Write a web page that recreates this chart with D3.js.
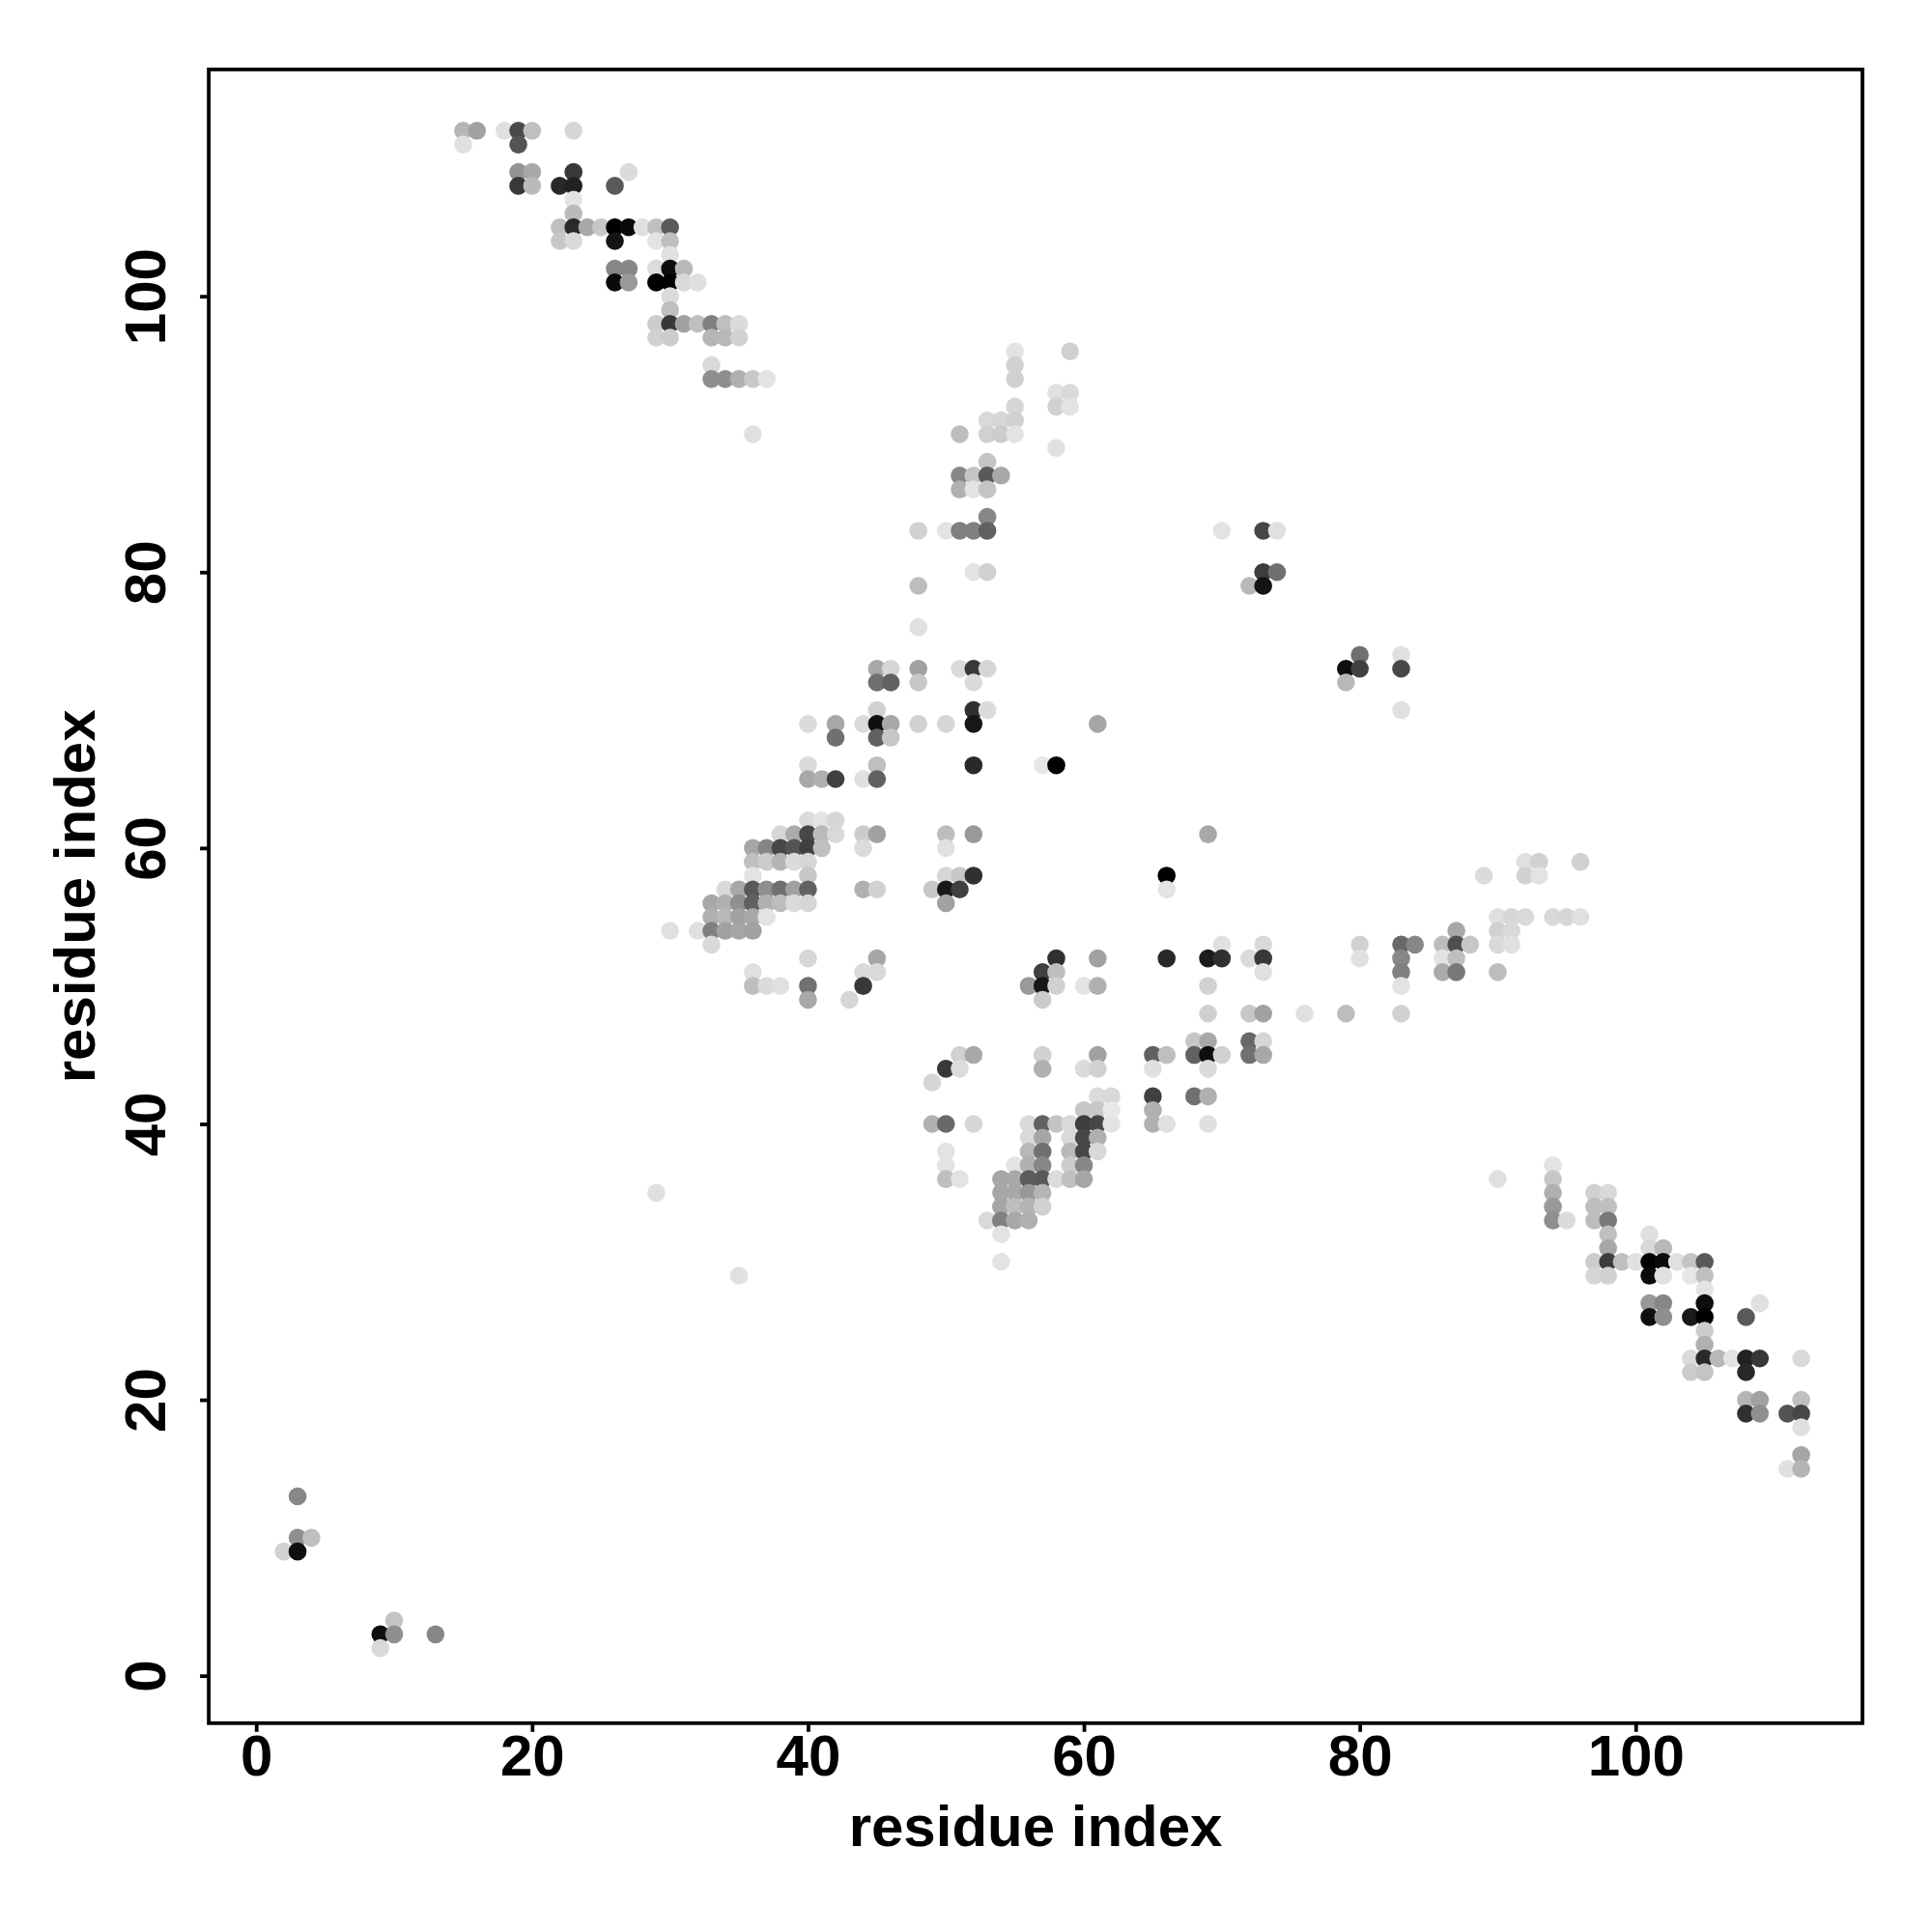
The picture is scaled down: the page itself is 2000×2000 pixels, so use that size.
<!DOCTYPE html>
<html>
<head>
<meta charset="utf-8">
<script src="https://cdn.jsdelivr.net/npm/d3@7/dist/d3.min.js"></script>
<style>
html,body{margin:0;padding:0;background:#fff}
svg{display:block}
text{font-family:"Liberation Sans",Arial,sans-serif;font-weight:bold;fill:#000}
</style>
</head>
<body>
<svg id="chart" width="2000" height="2000"></svg>
<script>
const tickLabels = [0, 20, 40, 60, 80, 100];
const axisTitle = "residue index";
const residueExtent = [1, 112];

const rowResidue = [112,111,109,108,107,106,105,104,103,102,101,100,99,98,97,96,95,94,93,92,91,90,89,88,87,86,84,83,80,79,76,74,73,72,70,69,68,66,65,62,61,60,59,58,57,56,55,54,53,52,51,50,49,48,46,45,44,43,42,41,40,39,38,37,36,35,34,33,32,31,30,29,28,27,26,25,24,23,22,20,19,18,16,15,13,10,9,4,3,2];

const rowPartners = [
[15,16,18,19,20,23],[15,19],[19,20,23,27],[19,20,22,23,26],[23],[23],
[22,23,24,25,26,27,28,29,30],[22,23,26,29,30],[30],[26,27,29,30,31],[26,27,29,30,31,32],[30],[30],
[29,30,31,32,33,34,35],[29,30,33,34,35],[55,59],[33,55],[33,34,35,36,37,55],[58,59],[55,58,59],[53,54,55],
[36,51,53,54,55],[58],[53],[51,52,53,54],[51,52,53],[53],[48,50,51,52,53,70,73,74],[52,53,73,74],[48,72,73],[48],
[80,83],[45,46,48,51,52,53,79,80,83],[45,46,48,52,79],[45,52,53,83],[40,42,44,45,46,48,50,52,61],[42,45,46],
[40,45,52,57,58],[40,41,42,44,45],[40,41,42],[38,39,40,41,42,44,45,50,52,69],[36,37,38,39,40,41,44,50],
[36,37,38,39,40,92,93,96],[36,40,50,51,52,66,89,92,93],[34,35,36,37,38,39,40,44,45,49,50,51,66],
[33,34,35,36,37,38,39,40,50],[33,34,35,36,37,90,91,92,94,95,96],[30,32,33,34,35,36,87,90,91],
[33,70,73,80,83,84,86,87,88,90,91],[40,45,58,61,66,69,70,72,73,80,83,86,87],[36,44,45,57,58,73,83,86,87,90],
[36,37,38,40,44,56,57,58,60,61,69,83],[40,43,57],[69,72,73,76,79,83],[68,69,72,73],
[51,52,57,61,65,66,68,69,70,72,73],[50,51,57,60,61,65,69],[49],[61,62,65,68,69],[60,61,62,65],
[49,50,52,56,57,58,59,60,61,62,65,66,69],[56,57,59,60,61],[50,56,57,59,60,61],[50,55,56,57,59,60,94],
[50,51,54,55,56,57,58,59,60,90,94],[29,54,55,56,57,94,97,98],[54,55,56,57,94,97,98],[53,54,55,56,94,95,97,98],
[54,98,101],[98,101,102],[54,97,98,99,100,101,102,103,104,105],[35,97,98,101,102,104,105],[105],
[101,102,105,109],[101,102,104,105,108],[105],[105],[104,105,106,107,108,109,112],[104,105,108],
[108,109,112],[108,109,111,112],[112],[112],[111,112],[3],[3,4],[2,3],[10],[9,10,13],[9]
];

const rowStrengths = [
[29,37,12,71,25,16],[12,67],[42,34,78,14],[78,27,84,87,65],[11],[27],
[25,84,34,22,100,96,12,25,65],[22,15,92,11,25],[12],[47,47,14,95,28],[96,40,100,100,15,12],[14],[25],
[20,78,37,25,50,25,14],[18,20,29,28,18],[11,18],[15,18],[44,44,31,22,11,18],[12,15],[16,18,11],[15,16,18],
[12,26,18,20,11],[12],[23],[47,23,65,34],[31,11,23],[47],[18,11,50,50,62,11,72,12],[11,18,76,56],[26,28,92],[12],
[56,12],[34,16,37,14,78,16,94,75,72],[56,62,22,14,28],[18,81,14,12],[14,34,14,94,34,18,16,91,35],[56,62,22],
[14,25,84,10,100],[34,31,75,12,62],[14,11,16],[16,33,72,27,15,20,37,26,40,34],[35,48,72,67,75,25,14,12],
[25,20,29,14,16,12,18,18],[11,22,16,22,81,100,14,18,11],[15,34,65,44,56,37,62,31,18,22,91,75,11],
[34,31,44,62,31,26,14,16,37],[31,28,37,34,11,12,16,15,15,16,12],[12,12,50,37,35,37,34,18,15],
[15,12,15,18,59,47,26,69,22,15,12],[16,35,81,37,84,89,81,14,78,12,47,11,25],[12,15,15,75,25,12,50,33,53,26],
[25,14,12,56,78,40,91,18,11,31,18,11],[34,16,20],[18,22,37,12,26,18],[22,34,59,16],
[18,34,18,37,62,25,62,94,18,56,34],[78,14,31,14,18,12,14],[16],[14,15,75,56,31],[22,22,9,31],
[31,59,16,15,62,23,15,76,72,11,31,12,12],[15,35,15,72,31],[11,28,56,28,72,15],[11,11,31,47,20,47,11],
[25,11,35,34,64,65,14,25,35,12,22],[12,35,34,40,29,31,18,15],[35,26,29,18,40,26,25],[15,50,34,31,44,14,26,53],
[11,25,12],[34,15,28],[11,20,76,25,12,100,96,12,23,65],[12,16,18,96,12,10,25],[11],
[40,47,95,12],[94,44,90,100,65],[20],[31],[14,84,28,11,87,78,15],[20,23,84],
[29,37,25],[81,44,67,72],[12],[35],[12,29],[47],[44,25],[18,94],[23],[94,44,47],[15]
];

const contacts = rowResidue.flatMap((y, r) =>
  rowPartners[r].map((x, c) => ({x, y, s: rowStrengths[r][c]})))
  .sort((a, b) => d3.ascending(a.x, b.x) || d3.descending(a.y, b.y));

const pad = (residueExtent[1] - residueExtent[0]) * 0.04;
const domain = [residueExtent[0] - pad, residueExtent[1] + pad];
const plotLeft = 216.1, plotRight = 1928, plotTop = 71.9, plotBottom = 1783.8;
const lineW = 3.8;

const xScale = d3.scaleLinear().domain(domain).range([plotLeft, plotRight]);
const yScale = d3.scaleLinear().domain(domain).range([plotBottom, plotTop]);
const shade = d3.scaleLinear().domain([0, 100]).range(["#ffffff", "#000000"]);

const svg = d3.select("#chart");
svg.append("rect").attr("width", 2000).attr("height", 2000).attr("fill", "#fff");

svg.append("g").selectAll("circle").data(contacts).join("circle")
  .attr("cx", d => xScale(d.x)).attr("cy", d => yScale(d.y)).attr("r", 9.3)
  .attr("fill", d => shade(d.s));

svg.append("rect")
  .attr("x", plotLeft).attr("y", plotTop)
  .attr("width", plotRight - plotLeft).attr("height", plotBottom - plotTop)
  .attr("fill", "none").attr("stroke", "#000").attr("stroke-width", lineW);

const xAxis = svg.append("g").attr("transform", `translate(0,${plotBottom})`)
  .call(d3.axisBottom(xScale).tickValues(tickLabels).tickSize(9).tickFormat(d3.format("d")));
xAxis.select(".domain").remove();
xAxis.selectAll("line").attr("stroke", "#000").attr("stroke-width", lineW);
xAxis.selectAll("text").attr("y", 54.5).attr("dy", 0)
  .attr("text-anchor", "middle").style("font-size", "60px");

const yAxis = svg.append("g").attr("transform", `translate(${plotLeft},0)`)
  .call(d3.axisLeft(yScale).tickValues(tickLabels).tickSize(9).tickFormat(d3.format("d")));
yAxis.select(".domain").remove();
yAxis.selectAll("line").attr("stroke", "#000").attr("stroke-width", lineW);
yAxis.selectAll("text").attr("x", 0).attr("y", 0).attr("dy", 0)
  .attr("text-anchor", "middle").style("font-size", "60px")
  .attr("transform", `translate(${170.5 - plotLeft},0) rotate(-90)`);

svg.append("text").attr("x", (plotLeft + plotRight) / 2).attr("y", 1911)
  .attr("text-anchor", "middle").style("font-size", "60px").text(axisTitle);
svg.append("text")
  .attr("transform", `translate(98,${(plotTop + plotBottom) / 2}) rotate(-90)`)
  .attr("text-anchor", "middle").style("font-size", "60px").text(axisTitle);
</script>
</body>
</html>
